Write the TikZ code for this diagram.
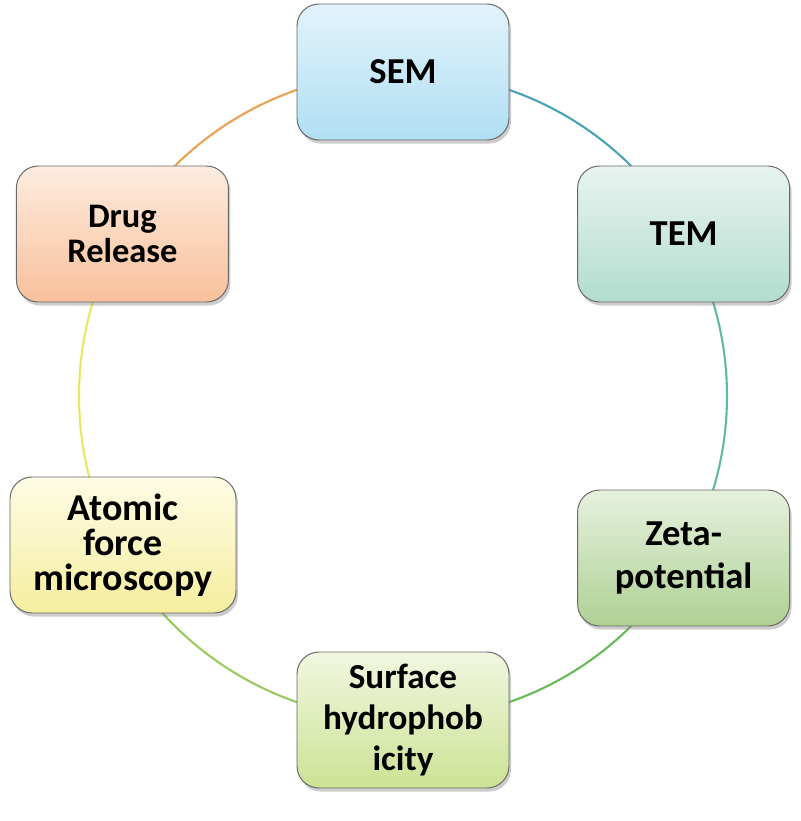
\documentclass[tikz,border=0pt]{standalone}
\usepackage{fontspec}
\setmainfont{Carlito}
\usepackage{tikz}
\usetikzlibrary{positioning,shadows,backgrounds}
\definecolor{semtop}{RGB}{226,243,252}
\definecolor{sembot}{RGB}{176,223,243}
\definecolor{temtop}{RGB}{232,244,240}
\definecolor{tembot}{RGB}{178,220,207}
\definecolor{zetatop}{RGB}{230,241,222}
\definecolor{zetabot}{RGB}{174,209,148}
\definecolor{surftop}{RGB}{241,247,224}
\definecolor{surfbot}{RGB}{204,226,148}
\definecolor{afmtop}{RGB}{254,252,230}
\definecolor{afmbot}{RGB}{245,238,158}
\definecolor{drugtop}{RGB}{253,236,223}
\definecolor{drugbot}{RGB}{249,192,155}
\definecolor{boxedge}{RGB}{105,105,105}
\definecolor{ringsemtem}{RGB}{72,163,184}
\definecolor{ringtemzeta}{RGB}{96,186,160}
\definecolor{ringzetasurf}{RGB}{104,186,88}
\definecolor{ringsurfafm}{RGB}{152,202,92}
\definecolor{ringafmdrug}{RGB}{232,232,96}
\definecolor{ringdrugsem}{RGB}{236,160,82}

\begin{document}
\begin{tikzpicture}[every node/.style={align=center,font=\bfseries},
  stagebox/.style={draw=boxedge,line width=0.7pt,rounded corners=0.55cm,minimum width=5.3cm,minimum height=3.4cm,
    drop shadow={shadow xshift=0.05cm,shadow yshift=-0.09cm,opacity=0.4}},
  ring/.style={line width=1.5pt}]
  \useasboundingbox (-10.075,-10.625) rectangle (9.925,9.9);
  \node[stagebox,top color=semtop,bottom color=sembot,font=\bfseries\fontsize{26}{31}\selectfont] (sem) at (90:8.1) {SEM};
  \node[stagebox,top color=temtop,bottom color=tembot,font=\bfseries\fontsize{26}{31}\selectfont] (tem) at (30:8.1) {TEM};
  \node[stagebox,top color=zetatop,bottom color=zetabot,font=\bfseries\fontsize{26}{31}\selectfont] (zeta) at (-30:8.1)
    {Zeta-\\potential};
  \node[stagebox,top color=surftop,bottom color=surfbot,font=\bfseries\fontsize{25}{29}\selectfont] (surf) at (-90:8.1)
    {Surface\\hydrophob\\icity};
  \node[stagebox,minimum width=5.65cm,top color=afmtop,bottom color=afmbot,font=\bfseries\fontsize{27}{25}\selectfont] (afm) at (-7.0,-3.725)
    {Atomic\\force\\microscopy};
  \node[stagebox,top color=drugtop,bottom color=drugbot,font=\bfseries\fontsize{24.5}{25}\selectfont] (drug) at (150:8.1)
    {Drug\\Release};
  \begin{pgfonlayer}{background}
    \draw[ring,ringsemtem] (sem.center) arc[start angle=90,end angle=30,radius=8.1cm];
    \draw[ring,ringtemzeta] (tem.center) arc[start angle=30,end angle=-30,radius=8.1cm];
    \draw[ring,ringzetasurf] (zeta.center) arc[start angle=-30,end angle=-90,radius=8.1cm];
    \draw[ring,ringsurfafm] (surf.center) arc[start angle=-90,end angle=-150,radius=8.1cm];
    \draw[ring,ringafmdrug] (drug.center) arc[start angle=150,end angle=210,radius=8.1cm];
    \draw[ring,ringdrugsem] (drug.center) arc[start angle=150,end angle=90,radius=8.1cm];
  \end{pgfonlayer}
\end{tikzpicture}
\end{document}
